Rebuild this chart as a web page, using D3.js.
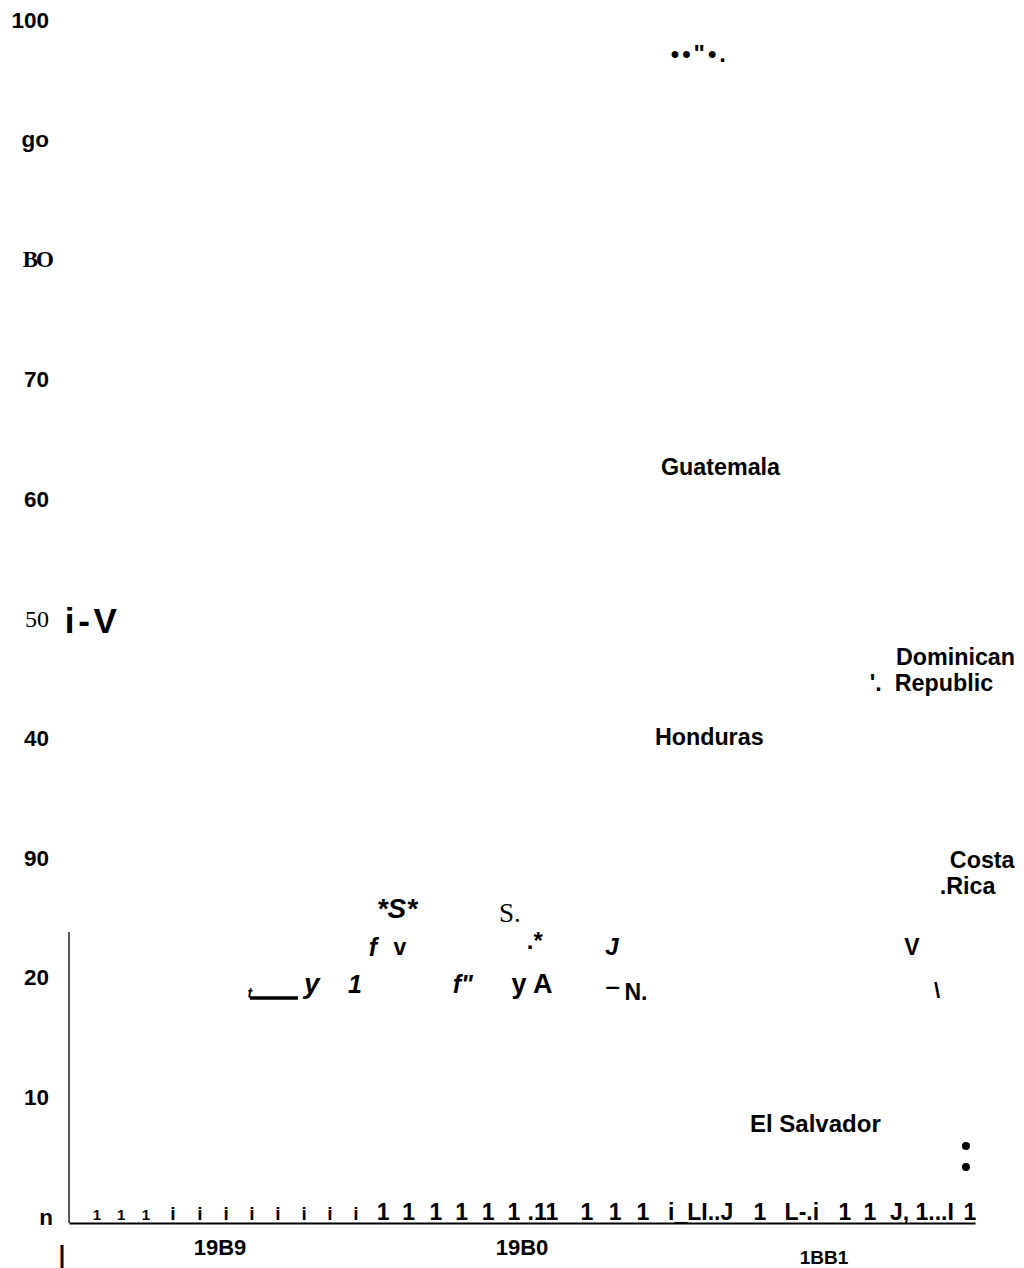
<!DOCTYPE html>
<html>

<head>
  <meta charset="utf8">
  <script src="https://d3js.org/d3.v7.min.js"></script>
  <style>
    body {
      margin: 0;
      background: #fff;
    }

    text {
      font-family: "Liberation Sans", Arial, sans-serif;
      font-weight: bold;
      fill: #000;
    }

    .axis .domain {
      display: none;
    }

    .y-axis text {
      font-size: 22.5px;
    }

    .serif {
      font-family: "Liberation Serif", "Times New Roman", serif;
    }
  </style>
</head>

<body>
  <svg id="chart" width="1024" height="1268"></svg>

  <script>
    // y axis (value 0-100)
    var yTicks = [0, 10, 20, 30, 40, 50, 60, 70, 80, 90, 100];
    var yTickLabels = ["n", "10", "20", "90", "40", "50", "60", "70", "BO", "go", "100"];

    // x axis (months from Jan 1979)
    var years = ["19B9", "19B0", "1BB1"];
    var yearMonths = [6, 18, 30];

    // month tick glyphs along the bottom
    var tickGlyphs = ["1", "1", "1", "i", "i", "i", "i", "i", "i", "i", "i",
      "1", "1", "1", "1", "1", "1", ".11", "1", "1", "1", "i_LI..J", "1", "L-.i", "1", "1", "J,", "1...I", "1"];
    var tickGlyphMonths = [1.11, 2.07, 3.06, 4.13, 5.2, 6.24, 7.27, 8.3, 9.34, 10.37, 11.4,
      12.48, 13.5, 14.58, 15.6, 16.65, 17.68, 18.83, 20.58, 21.7, 22.8, 25.1, 27.45, 29.12, 30.83, 31.82, 33.0, 34.4, 35.8];

    // country labels (left edge month, value)
    var countries = ["Guatemala", "Dominican", "'.  Republic", "Honduras", "Costa", ".Rica", "El Salvador"];
    var countryMonths = [23.52, 32.86, 31.82, 23.28, 35.0, 34.6, 27.06];
    var countryValues = [62.66, 46.78, 44.61, 40.1, 29.82, 27.65, 7.85];

    // El Salvador end points
    var dotMonths = [35.64, 35.64];
    var dotValues = [5.93, 4.18];

    // line fragments (centre month, value)
    var fragTexts = ["••\"•.", "*S*", "S.", "f", "v", ".*", "J", "V", "t", "y", "1", "f\"", "y A", "‾", "N.", "\\", "i - V"];
    var fragMonths = [25.07, 13.03, 17.52, 12.08, 13.15, 18.51, 21.57, 33.49, 7.19, 9.65, 11.36, 15.65, 18.4, 21.6, 22.53, 34.49, 0.87];
    var fragValues = [97.24, 25.81, 25.4, 22.56, 22.56, 23.14, 22.56, 22.56, 18.71, 19.47, 19.47, 19.47, 19.47, 18.2, 18.8, 18.96, 49.8];

    // underline segment near the start of the line
    var segMonths = [7.19, 9.1];
    var segValues = [18.3, 18.3];

    var fragStyle = {
      "••\"•.": { size: 24, ls: 3 },
      "*S*": { size: 28, italic: true },
      "S.": { size: 27, serif: true, normal: true },
      "f": { size: 25, italic: true },
      "v": { size: 23 },
      ".*": { size: 24 },
      "J": { size: 24, italic: true },
      "V": { size: 23 },
      "t": { size: 14, italic: true },
      "y": { size: 28, italic: true },
      "1": { size: 25, italic: true },
      "f\"": { size: 25, italic: true },
      "y A": { size: 27 },
      "‾": { size: 28 },
      "N.": { size: 23 },
      "\\": { size: 22 },
      "i - V": { size: 35, ws: -6 }
    };

    var chart = d3.select('#chart');

    var x = d3.scaleLinear().domain([0, 36]).range([69, 975]);
    var y = d3.scaleLinear().domain([0, 100]).range([1217, 20]);

    // y tick labels
    chart.append('g')
      .attr('class', 'axis y-axis')
      .attr('transform', 'translate(49, 0)')
      .call(d3.axisLeft(y).tickValues(yTicks).tickFormat((d, i) => yTickLabels[i]).tickSize(0).tickPadding(0))
      .selectAll('text')
      .attr('fill', '#000')
      .attr('dx', (d) => d === 0 ? 4 : d === 80 ? 3 : 0)
      .classed('serif', (d) => d === 80 || d === 50)
      .style('font-weight', (d) => d === 50 ? 'normal' : null)
      .style('font-size', (d) => d === 80 ? '23px' : d === 50 ? '24px' : null)
      .style('letter-spacing', (d) => d === 80 ? '-2px' : null);

    // axis lines
    chart.append('line')
      .attr('x1', x(0)).attr('x2', x(0))
      .attr('y1', y(-0.5)).attr('y2', y(23.8))
      .attr('stroke', '#000').attr('stroke-width', 1.3);

    chart.append('g')
      .attr('class', 'axis x-axis')
      .attr('transform', 'translate(0, ' + y(-0.5) + ')')
      .call(d3.axisBottom(x).tickValues([]).tickSizeOuter(0))
      .select('.domain')
      .style('display', 'inline')
      .attr('stroke-width', 2);

    chart.append('text')
      .attr('x', x(-0.28))
      .attr('y', y(-3.2))
      .attr('dominant-baseline', 'central')
      .attr('text-anchor', 'middle')
      .style('font-size', '23px')
      .text('|');

    // year labels
    chart.selectAll('.year')
      .data(years)
      .enter()
      .append('text')
      .attr('class', 'year')
      .attr('x', (d, i) => x(yearMonths[i]))
      .attr('y', (d, i) => y(i === 2 ? -3.35 : -2.55))
      .attr('dominant-baseline', 'central')
      .attr('text-anchor', 'middle')
      .style('font-size', (d, i) => i === 2 ? '19px' : '22px')
      .text((d) => d);

    // month tick glyphs
    chart.selectAll('.tick-glyph')
      .data(tickGlyphs)
      .enter()
      .append('text')
      .attr('class', 'tick-glyph')
      .attr('x', (d, i) => x(tickGlyphMonths[i]))
      .attr('y', y(-0.25))
      .attr('text-anchor', 'middle')
      .style('font-size', (d, i) => i < 3 ? '15px' : i < 11 ? '19px' : '23px')
      .text((d) => d);

    // country labels
    chart.selectAll('.country')
      .data(countries)
      .enter()
      .append('text')
      .attr('class', 'country')
      .attr('x', (d, i) => x(countryMonths[i]))
      .attr('y', (d, i) => y(countryValues[i]))
      .attr('dominant-baseline', 'central')
      .style('font-size', (d) => d === 'El Salvador' ? '24px' : '23.3px')
      .style('white-space', 'pre')
      .text((d) => d);

    chart.selectAll('.dot')
      .data(dotMonths)
      .enter()
      .append('circle')
      .attr('class', 'dot')
      .attr('cx', (d) => x(d))
      .attr('cy', (d, i) => y(dotValues[i]))
      .attr('r', 4)
      .attr('fill', '#000');

    // fragments of the lines
    chart.selectAll('.frag')
      .data(fragTexts)
      .enter()
      .append('text')
      .attr('class', (d) => 'frag' + (fragStyle[d].serif ? ' serif' : ''))
      .attr('x', (d, i) => x(fragMonths[i]))
      .attr('y', (d, i) => y(fragValues[i]))
      .attr('dominant-baseline', 'central')
      .attr('text-anchor', 'middle')
      .style('font-size', (d) => fragStyle[d].size + 'px')
      .style('font-style', (d) => fragStyle[d].italic ? 'italic' : null)
      .style('font-weight', (d) => fragStyle[d].normal ? 'normal' : null)
      .style('letter-spacing', (d) => fragStyle[d].ls ? fragStyle[d].ls + 'px' : null)
      .style('word-spacing', (d) => fragStyle[d].ws ? fragStyle[d].ws + 'px' : null)
      .text((d) => d);

    chart.append('line')
      .attr('x1', x(segMonths[0])).attr('x2', x(segMonths[1]))
      .attr('y1', y(segValues[0])).attr('y2', y(segValues[1]))
      .attr('stroke', '#000').attr('stroke-width', 3.5);
  </script>
</body>

</html>
